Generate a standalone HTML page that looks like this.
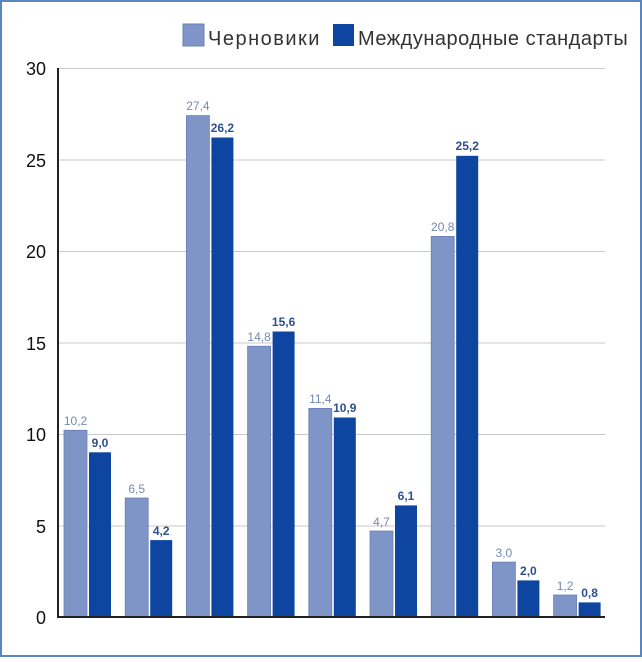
<!DOCTYPE html><html><head><style>body{margin:0;background:#fff}</style></head><body>
<svg width="642" height="657" xmlns="http://www.w3.org/2000/svg" font-family="Liberation Sans, sans-serif">
<rect x="1" y="1" width="640" height="655" fill="#fff" stroke="#5b86bd" stroke-width="2"/>
<g stroke="#c8c8c8" stroke-width="1">
<line x1="58" x2="605" y1="68.5" y2="68.5"/><line x1="58" x2="605" y1="160" y2="160"/><line x1="58" x2="605" y1="251.5" y2="251.5"/><line x1="58" x2="605" y1="343" y2="343"/><line x1="58" x2="605" y1="434.5" y2="434.5"/><line x1="58" x2="605" y1="526" y2="526"/>
</g>
<g font-size="18" text-anchor="end" fill="#111">
<text x="46" y="75">30</text><text x="46" y="167">25</text><text x="46" y="258">20</text><text x="46" y="350">15</text><text x="46" y="441">10</text><text x="46" y="533">5</text><text x="46" y="624">0</text>
</g>
<g fill="#7f95c8" stroke="#6a80b5" stroke-width="0.8">
<rect x="64" y="430.3" width="23" height="186.7"/>
<rect x="125.2" y="498" width="23" height="119"/>
<rect x="186.4" y="115.6" width="23" height="501.4"/>
<rect x="247.6" y="346.2" width="23" height="270.8"/>
<rect x="308.8" y="408.4" width="23" height="208.6"/>
<rect x="370" y="531" width="23" height="86"/>
<rect x="431.2" y="236.4" width="23" height="380.6"/>
<rect x="492.4" y="562.1" width="23" height="54.9"/>
<rect x="553.6" y="595" width="23" height="22"/>
</g>
<g fill="#0d45a0">
<rect x="89" y="452.3" width="22" height="164.7"/>
<rect x="150.2" y="540.1" width="22" height="76.9"/>
<rect x="211.4" y="137.5" width="22" height="479.5"/>
<rect x="272.6" y="331.5" width="22" height="285.5"/>
<rect x="333.8" y="417.5" width="22" height="199.5"/>
<rect x="395" y="505.4" width="22" height="111.6"/>
<rect x="456.2" y="155.8" width="22" height="461.2"/>
<rect x="517.4" y="580.4" width="22" height="36.6"/>
<rect x="578.6" y="602.4" width="22" height="14.6"/>
</g>
<g font-size="12" text-anchor="middle" fill="#7388b5">
<text x="75.5" y="425">10,2</text><text x="136.7" y="493">6,5</text><text x="197.9" y="110">27,4</text><text x="259.1" y="341">14,8</text><text x="320.3" y="403">11,4</text><text x="381.5" y="526">4,7</text><text x="442.7" y="231">20,8</text><text x="503.9" y="557">3,0</text><text x="565.1" y="590">1,2</text>
</g>
<g font-size="12" font-weight="bold" text-anchor="middle" fill="#2f4f8f">
<text x="100" y="447">9,0</text><text x="161.2" y="535">4,2</text><text x="222.4" y="132">26,2</text><text x="283.6" y="326">15,6</text><text x="344.8" y="412">10,9</text><text x="406" y="500">6,1</text><text x="467.2" y="150">25,2</text><text x="528.4" y="575">2,0</text><text x="589.6" y="597">0,8</text>
</g>
<line x1="58" y1="68" x2="58" y2="618" stroke="#222" stroke-width="2"/>
<line x1="57" y1="617" x2="605" y2="617" stroke="#222" stroke-width="2"/>
<rect x="183" y="24" width="21" height="22" fill="#7f95c8" stroke="#6a80b5"/>
<text x="208" y="45" font-size="20" letter-spacing="1.5" fill="#333">Черновики</text>
<rect x="333" y="24" width="21" height="22" fill="#0d45a0"/>
<text x="358" y="45" font-size="20" letter-spacing="0.5" fill="#333">Международные стандарты</text>
</svg></body></html>
